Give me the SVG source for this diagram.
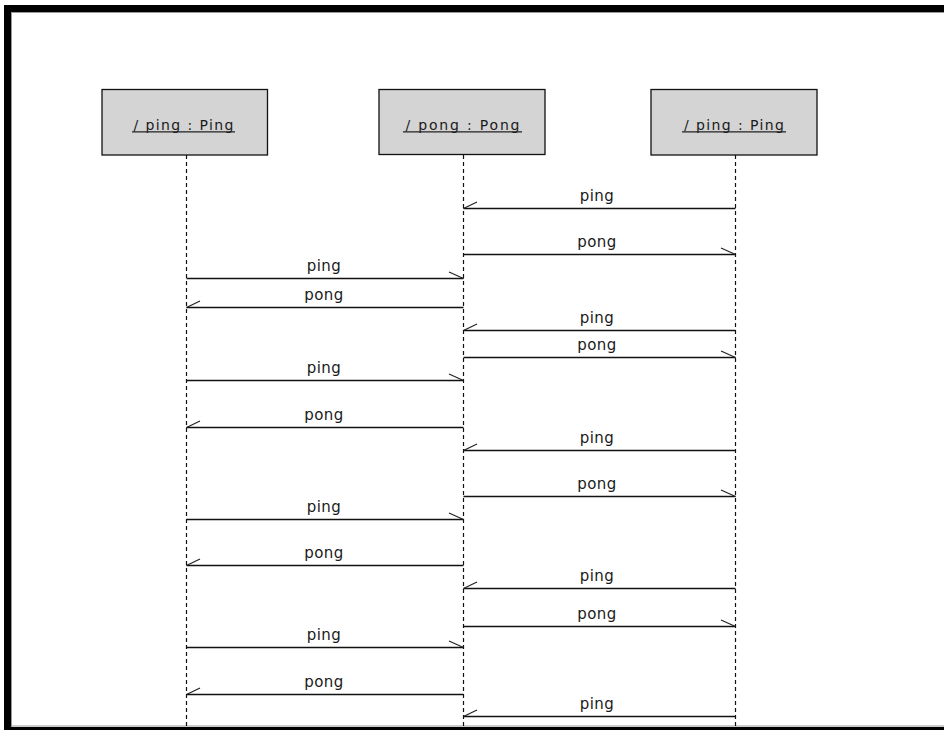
<svg xmlns="http://www.w3.org/2000/svg" width="944" height="730" viewBox="0 0 944 730">
<style>
.box{fill:#d4d4d4;stroke:#111;stroke-width:1.3}
.title{font-family:"DejaVu Sans",sans-serif;font-size:14px;fill:#1a1a1a;text-anchor:middle}
.ul{stroke:#222;stroke-width:1.2}
.life{stroke:#111;stroke-width:1.2;stroke-dasharray:4 3;fill:none}
.msg{stroke:#111;stroke-width:1.3;fill:none}
.head{stroke:#222;stroke-width:1.2;fill:none}
.lbl{font-family:"DejaVu Sans",sans-serif;font-size:15px;letter-spacing:0.5px;fill:#1a1a1a;text-anchor:middle}
</style>
<rect x="0" y="0" width="944" height="730" fill="#fff"/>
<g id="frame">
<rect x="4" y="5" width="940" height="7" fill="#000"/>
<rect x="4" y="5" width="7" height="725" fill="#000"/>
<rect x="4" y="727" width="940" height="3" fill="#000"/>
<line x1="11" y1="12.5" x2="944" y2="12.5" stroke="#999" stroke-width="1"/>
<line x1="11.5" y1="12" x2="11.5" y2="727" stroke="#999" stroke-width="1"/>
<line x1="11" y1="726" x2="944" y2="726" stroke="#999" stroke-width="1"/>
</g>
<g id="lifelines">
<line class="life" x1="186.5" y1="155" x2="186.5" y2="727"/>
<line class="life" x1="463.5" y1="155" x2="463.5" y2="727"/>
<line class="life" x1="735.5" y1="155" x2="735.5" y2="727"/>
</g>
<g id="node-ping1">
<rect class="box" x="102" y="89.5" width="165.5" height="65.5"/>
<text class="title" x="183.5" y="130" textLength="100" lengthAdjust="spacing">/ ping : Ping</text>
<line class="ul" x1="132" y1="131.8" x2="235" y2="131.8"/>
</g>
<g id="node-pong">
<rect class="box" x="379" y="89.5" width="166" height="65"/>
<text class="title" x="462.5" y="130" textLength="114" lengthAdjust="spacing">/ pong : Pong</text>
<line class="ul" x1="403" y1="131.8" x2="522" y2="131.8"/>
</g>
<g id="node-ping2">
<rect class="box" x="651" y="89.5" width="166" height="65.5"/>
<text class="title" x="734" y="130" textLength="100" lengthAdjust="spacing">/ ping : Ping</text>
<line class="ul" x1="682" y1="131.8" x2="786" y2="131.8"/>
</g>
<g id="connectors">
<line class="msg" x1="735.5" y1="208.5" x2="463.5" y2="208.5"/><path class="head" d="M463.5 208.5 L477 202"/><text class="lbl" x="597" y="200.5">ping</text>
<line class="msg" x1="463.5" y1="254.5" x2="735.5" y2="254.5"/><path class="head" d="M735.5 254.5 L721 248"/><text class="lbl" x="597" y="246.5">pong</text>
<line class="msg" x1="186.5" y1="278.5" x2="463.5" y2="278.5"/><path class="head" d="M463.5 278.5 L449 272"/><text class="lbl" x="324" y="270.5">ping</text>
<line class="msg" x1="463.5" y1="307.5" x2="186.5" y2="307.5"/><path class="head" d="M186.5 307.5 L200 301"/><text class="lbl" x="324" y="299.5">pong</text>
<line class="msg" x1="735.5" y1="330.5" x2="463.5" y2="330.5"/><path class="head" d="M463.5 330.5 L477 324"/><text class="lbl" x="597" y="322.5">ping</text>
<line class="msg" x1="463.5" y1="357.5" x2="735.5" y2="357.5"/><path class="head" d="M735.5 357.5 L721 351"/><text class="lbl" x="597" y="349.5">pong</text>
<line class="msg" x1="186.5" y1="380.5" x2="463.5" y2="380.5"/><path class="head" d="M463.5 380.5 L449 374"/><text class="lbl" x="324" y="372.5">ping</text>
<line class="msg" x1="463.5" y1="427.5" x2="186.5" y2="427.5"/><path class="head" d="M186.5 427.5 L200 421"/><text class="lbl" x="324" y="419.5">pong</text>
<line class="msg" x1="735.5" y1="450.5" x2="463.5" y2="450.5"/><path class="head" d="M463.5 450.5 L477 444"/><text class="lbl" x="597" y="442.5">ping</text>
<line class="msg" x1="463.5" y1="496.5" x2="735.5" y2="496.5"/><path class="head" d="M735.5 496.5 L721 490"/><text class="lbl" x="597" y="488.5">pong</text>
<line class="msg" x1="186.5" y1="519.5" x2="463.5" y2="519.5"/><path class="head" d="M463.5 519.5 L449 513"/><text class="lbl" x="324" y="511.5">ping</text>
<line class="msg" x1="463.5" y1="565.5" x2="186.5" y2="565.5"/><path class="head" d="M186.5 565.5 L200 559"/><text class="lbl" x="324" y="557.5">pong</text>
<line class="msg" x1="735.5" y1="588.5" x2="463.5" y2="588.5"/><path class="head" d="M463.5 588.5 L477 582"/><text class="lbl" x="597" y="580.5">ping</text>
<line class="msg" x1="463.5" y1="626.5" x2="735.5" y2="626.5"/><path class="head" d="M735.5 626.5 L721 620"/><text class="lbl" x="597" y="618.5">pong</text>
<line class="msg" x1="186.5" y1="647.5" x2="463.5" y2="647.5"/><path class="head" d="M463.5 647.5 L449 641"/><text class="lbl" x="324" y="639.5">ping</text>
<line class="msg" x1="463.5" y1="694.5" x2="186.5" y2="694.5"/><path class="head" d="M186.5 694.5 L200 688"/><text class="lbl" x="324" y="686.5">pong</text>
<line class="msg" x1="735.5" y1="716.5" x2="463.5" y2="716.5"/><path class="head" d="M463.5 716.5 L477 710"/><text class="lbl" x="597" y="708.5">ping</text>
</g>
</svg>
